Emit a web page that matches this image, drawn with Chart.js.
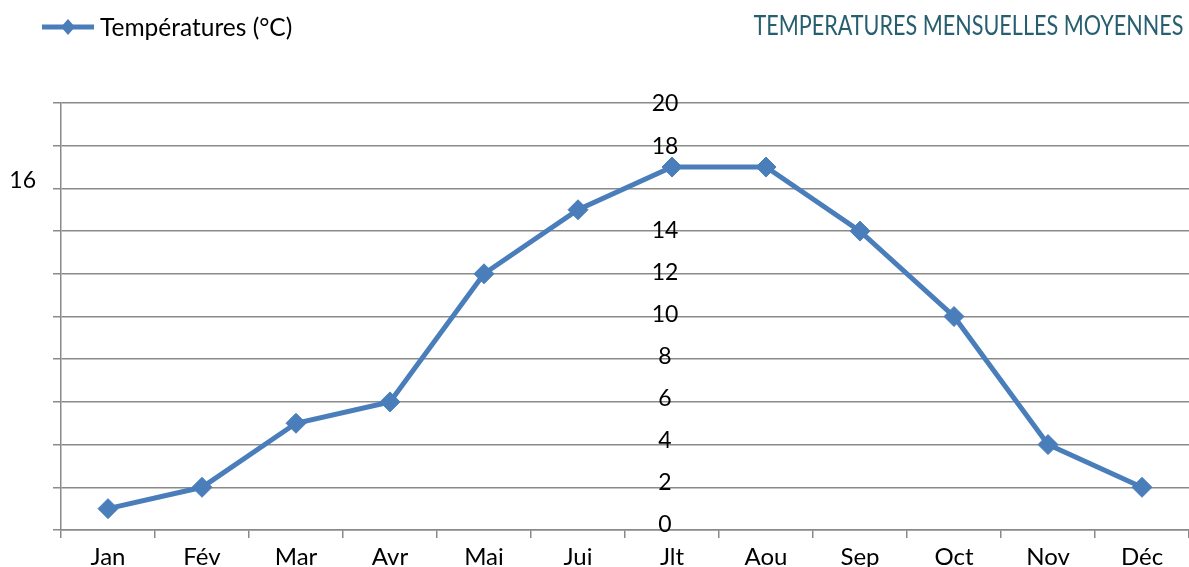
<!DOCTYPE html>
<html>
<head>
<meta charset="utf-8">
<script src="https://cdn.jsdelivr.net/npm/chart.js@4/dist/chart.umd.min.js"></script>
<style>
body { margin: 0; overflow: hidden; background: #fff; }
.wrap { position: relative; width: 1200px; height: 567px; }
.title {
    position: absolute; top: 8px; right: 6px; white-space: nowrap;
    font-family: Lato, sans-serif; font-size: 27px; color: #285f70;
    transform: scaleX(0.8); transform-origin: right center;
}
</style>
</head>
<body>
<div class="wrap">
    <canvas id="tempChart"></canvas>
</div>
<div class="title">TEMPERATURES MENSUELLES MOYENNES</div>

<script>
// Chart data
const months = ['Jan', 'Fév', 'Mar', 'Avr', 'Mai', 'Jui', 'Jlt', 'Aou', 'Sep', 'Oct', 'Nov', 'Déc'];
const temperatures = [1, 2, 5, 6, 12, 15, 17, 17, 14, 10, 4, 2];
const yTicks = [0, 2, 4, 6, 8, 10, 12, 14, 16, 18, 20];
const seriesLabel = 'Températures (°C)';

const lineColor = '#4a7ebb';
const gridColor = '#8a8a8a';
const fontFamily = 'Lato, sans-serif';

// Draws the y tick labels in the middle of the plot (and the stray "16" on the left)
const midLabels = {
    id: 'midLabels',
    afterDatasetsDraw(chart) {
        const ctx = chart.ctx;
        const x = chart.scales.x;
        const y = chart.scales.y;
        const cx = x.getPixelForValue(6) - 7;
        ctx.save();
        ctx.font = '23px ' + fontFamily;
        ctx.fillStyle = '#000';
        ctx.textBaseline = 'middle';
        yTicks.forEach(v => {
            const py = y.getPixelForValue(v) - 5 + v * 0.3;
            if (v === 16) {
                ctx.textAlign = 'right';
                ctx.fillText(String(v), 36, y.getPixelForValue(v) - 8);
            } else {
                ctx.textAlign = 'center';
                ctx.fillText(String(v), cx, py);
            }
        });
        ctx.restore();
    }
};

// Legend: line with diamond marker + text
const lineLegend = {
    id: 'lineLegend',
    afterDraw(chart) {
        const ctx = chart.ctx;
        ctx.save();
        ctx.strokeStyle = lineColor;
        ctx.lineWidth = 5;
        ctx.beginPath();
        ctx.moveTo(42, 27);
        ctx.lineTo(94, 27);
        ctx.stroke();
        ctx.fillStyle = lineColor;
        ctx.beginPath();
        ctx.moveTo(68, 19);
        ctx.lineTo(75, 27);
        ctx.lineTo(68, 35);
        ctx.lineTo(61, 27);
        ctx.closePath();
        ctx.fill();
        ctx.font = '24.5px ' + fontFamily;
        ctx.fillStyle = '#000';
        ctx.textAlign = 'left';
        ctx.textBaseline = 'middle';
        ctx.fillText(seriesLabel, 100, 28);
        ctx.restore();
    }
};

new Chart(document.getElementById('tempChart'), {
    type: 'line',
    data: {
        labels: months,
        datasets: [{
            label: seriesLabel,
            data: temperatures,
            borderColor: lineColor,
            backgroundColor: lineColor,
            borderWidth: 5,
            pointStyle: 'rectRot',
            pointRadius: 10,
            pointBorderWidth: 1,
            pointBackgroundColor: lineColor,
            pointBorderColor: lineColor,
            tension: 0,
            fill: false
        }]
    },
    options: {
        responsive: true,
        maintainAspectRatio: false,
        animation: false,
        layout: { padding: { top: 103, left: 0, right: 0, bottom: 0 } },
        plugins: {
            legend: { display: false },
            title: { display: false },
            tooltip: { enabled: false }
        },
        scales: {
            x: {
                offset: true,
                grid: {
                    display: true,
                    drawOnChartArea: false,
                    offset: true,
                    color: gridColor,
                    lineWidth: 1.5,
                    tickLength: 8
                },
                border: { color: gridColor, width: 1.5 },
                ticks: {
                    color: '#000',
                    padding: 5,
                    maxRotation: 0,
                    font: { family: fontFamily, size: 24 }
                },
                afterFit: s => { s.height = 37; }
            },
            y: {
                min: 0,
                max: 20,
                ticks: { stepSize: 2, display: false },
                grid: { color: gridColor, lineWidth: 1.5, tickLength: 8 },
                border: { color: gridColor, width: 1.5 },
                afterFit: s => { s.width = 61; }
            }
        }
    },
    plugins: [midLabels, lineLegend]
});
</script>
</body>
</html>
